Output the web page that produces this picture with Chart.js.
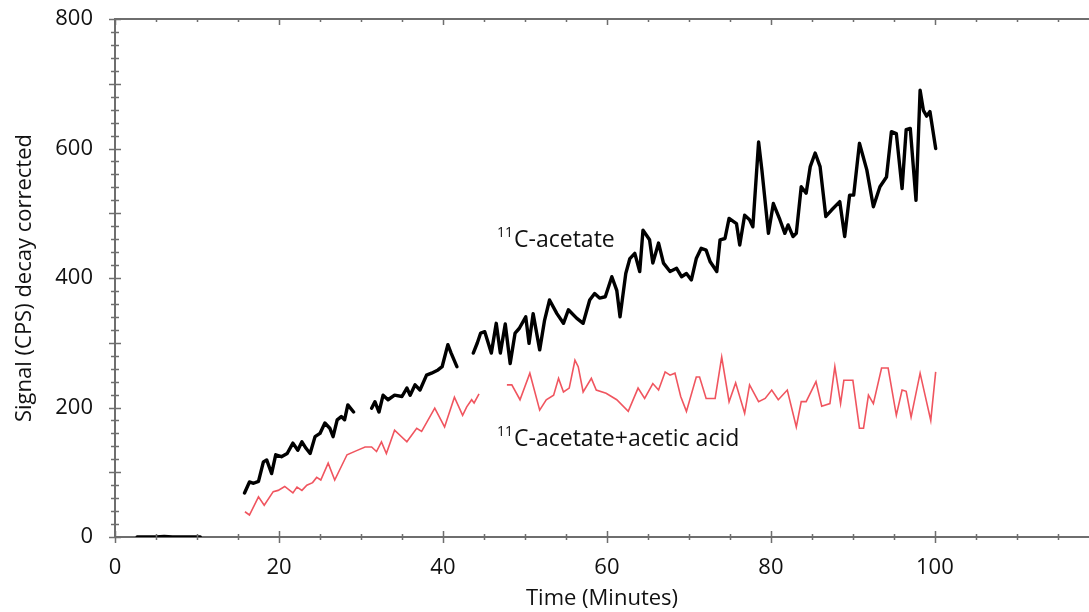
<!DOCTYPE html>
<html>
<head>
<meta charset="utf-8">
<script src="https://cdn.jsdelivr.net/npm/chart.js@4.4.1/dist/chart.umd.min.js"></script>
<style>
html,body{margin:0;padding:0;background:#fff;}
#wrap{width:1089px;height:612px;position:relative;}
</style>
</head>
<body>
<div id="wrap"><canvas id="c" width="1089" height="612"></canvas></div>
<script>
// ---- data (time in minutes, signal in CPS) ----
const acetateX = [2.7, 5, 6, 7, 10.4, 12,
  15.8, 16.4, 16.9, 17.5, 18.1, 18.5, 19.1, 19.6, 20.3, 21, 21.7, 22.3, 22.8, 23.3, 23.8, 24.4, 25, 25.6, 26.2, 26.6, 27.1, 27.6, 28, 28.4, 29.1, 30,
  31.3, 31.7, 32.2, 32.7, 33.3, 34.1, 35, 35.6, 36, 36.6, 37.2, 38, 38.6, 39.4, 39.9, 40.6, 41, 41.7, 42.5,
  43.7, 44.2, 44.6, 45.1, 45.9, 46.5, 47, 47.6, 48.2, 48.8, 49.3, 50.1, 50.5, 51, 51.8, 52.4, 53, 53.9, 54.7, 55.3, 56.3, 57.1, 57.9, 58.5, 59.1, 59.8,
  60.6, 61.2, 61.6, 62.3, 62.8, 63.4, 64, 64.4, 65.2, 65.6, 66.3, 66.9, 67.7, 68.5, 69.1, 69.7, 70.3, 70.9, 71.5, 72.1, 72.6, 73.4, 73.8, 74.4, 74.9,
  75.8, 76.2, 76.8, 77.4, 77.8, 78.5, 78.9, 79.7, 80.3, 81.1, 81.7, 82.1, 82.7, 83.1, 83.7, 84.3, 84.8, 85.4, 86, 86.7, 87.4, 88.4, 89, 89.6, 90.1,
  90.8, 91.7, 92.5, 93.3, 94.1, 94.7, 95.3, 96, 96.5, 97, 97.7, 98.2, 98.6, 99, 99.4, 100.1];
const acetateY = [0, 0, 1, 0, 0, null,
  68, 85, 83, 86, 116, 119, 98, 127, 124, 129, 145, 134, 147, 137, 129, 155, 160, 176, 168, 155, 181, 186, 181, 204, 193, null,
  199, 209, 193, 219, 212, 219, 217, 230, 219, 235, 227, 250, 253, 258, 263, 297, 284, 263, null,
  284, 300, 315, 317, 284, 330, 284, 329, 268, 315, 322, 340, 299, 345, 289, 335, 366, 345, 330, 351, 338, 330, 366, 376, 369, 371,
  402, 381, 340, 407, 430, 438, 410, 474, 459, 423, 454, 423, 410, 415, 402, 407, 397, 430, 446, 443, 425, 410, 459, 461, 492,
  484, 451, 497, 490, 479, 610, 567, 469, 515, 490, 469, 482, 464, 469, 541, 531, 572, 593, 572, 495, 505, 518, 464, 528, 528,
  608, 567, 510, 541, 556, 626, 623, 538, 629, 631, 520, 690, 659, 650, 657, 600];

const acidX = [15.85, 16.4, 17.5, 18.2, 19.3, 19.9, 20.7, 21.7, 22.2, 22.8, 23.4, 24.1, 24.6, 25.1, 26, 26.8, 28.3, 29.4, 30.5, 31.3, 31.9, 32.5, 33.1, 34.1,
  35.6, 36.8, 37.4, 39, 40.2, 41.4, 42.4, 42.9, 43.5, 43.8, 44.4, 46,
  47.8, 48.4, 49.4, 50.6, 51.8, 52.6, 53.5, 54.1, 54.7, 55.4, 56.1, 56.5, 57.1, 58.1, 58.7, 59.9, 61.2, 62.6, 63.8, 64.6, 65.6, 66.3, 67.1, 67.7, 68.3,
  69, 69.7, 70.9, 71.3, 72.1, 73.2, 74, 74.9, 75.7, 76.8, 77.4, 78.5, 79.3, 80.1, 80.9, 82, 83.1, 83.7, 84.3, 85.5, 86.2, 87.2, 87.8, 88.5, 88.9,
  90, 90.8, 91.3, 91.9, 92.5, 93.5, 94.3, 95.3, 96, 96.5, 97.1, 98.2, 99.5, 100.1];
const acidY = [39, 34, 62, 49, 70, 72, 78, 68, 77, 72, 80, 84, 92, 88, 114, 88, 127, 133, 139, 139, 132, 147, 129, 165,
  147, 168, 163, 199, 170, 216, 188, 201, 212, 207, 221, null,
  235, 235, 212, 253, 196, 212, 219, 245, 224, 230, 273, 263, 224, 245, 227, 222, 212, 194, 230, 214, 237, 227, 255, 250, 253,
  217, 194, 247, 247, 214, 214, 278, 209, 238, 191, 235, 209, 214, 227, 212, 227, 170, 209, 209, 240, 202, 206, 263, 206, 242,
  242, 168, 168, 219, 206, 261, 261, 188, 227, 225, 185, 253, 180, 255];

const xTickLabels = [0, 20, 40, 60, 80, 100];
const yTickLabels = [0, 200, 400, 600, 800];
const seriesNames = ['11C-acetate', '11C-acetate+acetic acid'];

const toPts = (xs, ys) => xs.map((x, i) => ({x: x, y: ys[i]}));

const FONT = '"Open Sans", "DejaVu Sans", sans-serif';
const AXIS = '#6e6e6e';

const decor = {
  id: 'decor',
  afterDraw(chart) {
    const ctx = chart.ctx, a = chart.chartArea, xs = chart.scales.x, ys = chart.scales.y;
    ctx.save();
    ctx.strokeStyle = AXIS;
    ctx.lineWidth = 2;
    // top border
    ctx.beginPath(); ctx.moveTo(a.left, a.top); ctx.lineTo(a.right, a.top); ctx.stroke();
    ctx.lineWidth = 1.5;
    // x tick marks (bottom and top)
    for (let v = 0; v <= 115; v += 5) {
      const px = Math.round(xs.getPixelForValue(v)) + 0.5;
      const major = v % 20 === 0;
      ctx.beginPath();
      ctx.moveTo(px, a.bottom - (major ? 6 : 3));
      ctx.lineTo(px, a.bottom + (major ? 6 : 3));
      ctx.moveTo(px, a.top);
      ctx.lineTo(px, a.top + (major ? 6 : 3));
      ctx.stroke();
    }
    // y tick marks
    for (let v = 0; v <= 800; v += 20) {
      const py = Math.round(ys.getPixelForValue(v)) + 0.5;
      const major = v % 100 === 0;
      ctx.beginPath();
      ctx.moveTo(a.left - (major ? 6 : 4), py);
      ctx.lineTo(a.left + (major ? 6 : 4), py);
      ctx.stroke();
    }
    // series labels
    ctx.fillStyle = '#111';
    ctx.textBaseline = 'alphabetic';
    const label = (name, xv, yv) => {
      const px = xs.getPixelForValue(xv), py = ys.getPixelForValue(yv);
      const sup = name.slice(0, 2), rest = name.slice(2);
      ctx.font = '14px ' + FONT;
      ctx.fillText(sup, px, py - 10);
      const w = ctx.measureText(sup).width;
      ctx.font = '23px ' + FONT;
      ctx.fillText(rest, px + w + 1, py);
    };
    label(seriesNames[0], 46.6, 448);
    label(seriesNames[1], 46.6, 140);
    ctx.restore();
  }
};

new Chart(document.getElementById('c'), {
  type: 'line',
  data: {
    datasets: [
      {label: seriesNames[0], data: toPts(acetateX, acetateY), borderColor: '#000', borderWidth: 3.4,
       pointRadius: 0, tension: 0, spanGaps: false, borderJoinStyle: 'round', borderCapStyle: 'round'},
      {label: seriesNames[1], data: toPts(acidX, acidY), borderColor: 'rgb(240,85,95)', borderWidth: 1.6,
       pointRadius: 0, tension: 0, spanGaps: false}
    ]
  },
  options: {
    responsive: false,
    animation: false,
    events: [],
    layout: {padding: {top: 19, right: 0, bottom: 0, left: 0}},
    plugins: {legend: {display: false}, tooltip: {enabled: false}},
    scales: {
      x: {
        type: 'linear', min: 0, max: 118.8,
        afterFit(s) { s.height = 75; s.paddingLeft = 0; s.paddingRight = 0; },
        afterBuildTicks(s) { s.ticks = xTickLabels.map(v => ({value: v})); },
        grid: {display: false},
        border: {display: true, color: AXIS, width: 2},
        ticks: {color: '#111', font: {family: FONT, size: 22}, padding: 10, autoSkip: false, maxRotation: 0},
        title: {display: true, text: 'Time (Minutes)', color: '#111', font: {family: FONT, size: 22}, padding: {top: 0, bottom: 0}}
      },
      y: {
        type: 'linear', min: 0, max: 800,
        afterFit(s) { s.width = 115; s.paddingTop = 0; s.paddingBottom = 0; },
        afterBuildTicks(s) { s.ticks = yTickLabels.map(v => ({value: v})); },
        grid: {display: false},
        border: {display: true, color: AXIS, width: 2},
        ticks: {color: '#111', font: {family: FONT, size: 22}, padding: 14, autoSkip: false},
        title: {display: true, text: 'Signal (CPS) decay corrected', color: '#111', font: {family: FONT, size: 22}, padding: {top: 12, bottom: 0}}
      }
    }
  },
  plugins: [decor]
});
</script>
</body>
</html>
